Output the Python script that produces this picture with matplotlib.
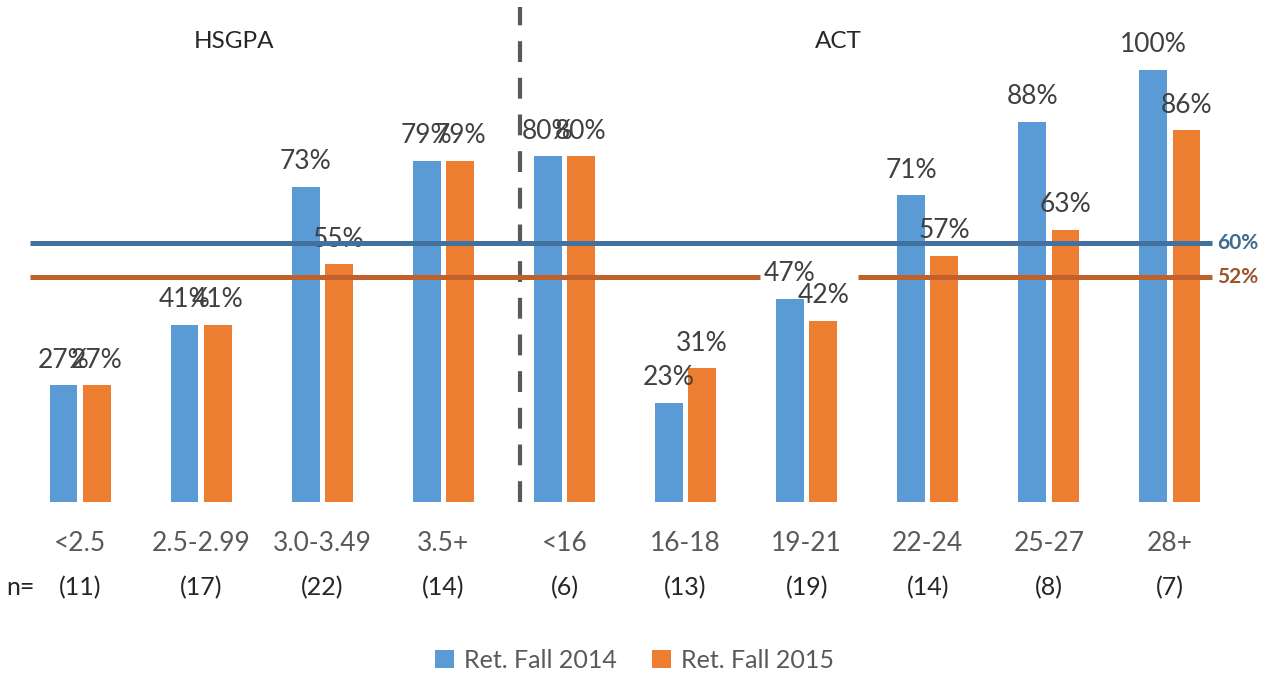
import numpy as np
import matplotlib
matplotlib.use("Agg")
import matplotlib.pyplot as plt

plt.rcParams['font.family'] = ['Lato', 'DejaVu Sans']

categories = ["<2.5", "2.5-2.99", "3.0-3.49", "3.5+", "<16", "16-18", "19-21", "22-24", "25-27", "28+"]
counts = [11, 17, 22, 14, 6, 13, 19, 14, 8, 7]
ret_2014 = [27, 41, 73, 79, 80, 23, 47, 71, 88, 100]
ret_2015 = [27, 41, 55, 79, 80, 31, 42, 57, 63, 86]
avg_2014 = 60
avg_2015 = 52

blue = "#5B9BD5"
orange = "#ED7D31"

fig = plt.figure(figsize=(12.77, 6.77), dpi=100)
ax = fig.add_axes([0, 0.2585, 1, 0.7415])
ax.set_xlim(-0.661, 9.884)
ax.set_ylim(0, 116.2)
ax.axis("off")

x = np.arange(len(categories))
w = 0.23
off = 0.137
b1 = ax.bar(x - off, ret_2014, w, color=blue, label="Ret. Fall 2014", zorder=2)
b2 = ax.bar(x + off, ret_2015, w, color=orange, label="Ret. Fall 2015", zorder=2)

for xs, vals in [(x - off, ret_2014), (x + off, ret_2015)]:
    for xi, v in zip(xs, vals):
        ax.annotate(f"{v}%", (xi, v), xytext=(0, 9), textcoords="offset points",
                    ha="center", va="bottom", fontsize=19, color="#404040", zorder=3)

# average lines
ax.hlines(avg_2014, -0.41, 9.35, color="#41719C", lw=3.6, zorder=4)
gap = 6
ax.hlines(avg_2015, -0.41, gap - 0.385, color="#C0612B", lw=3.6, zorder=4)
ax.hlines(avg_2015, gap + 0.425, 9.35, color="#C0612B", lw=3.6, zorder=4)
ax.text(9.56, avg_2014, f"{avg_2014}%", ha="center", va="center", fontsize=15,
        fontweight="bold", color="#3E6A90")
ax.text(9.56, avg_2015, f"{avg_2015}%", ha="center", va="center", fontsize=15,
        fontweight="bold", color="#A0522D")

# divider
ax.plot([3.633, 3.633], [0, 114.5], color="#595959", lw=3, dashes=(5, 3.8), zorder=1)

ax.text(1.27, 106.5, "HSGPA", ha="center", va="center", fontsize=17.5, color="#262626")
ax.text(6.26, 106.5, "ACT", ha="center", va="center", fontsize=17.5, color="#262626")

for xi, c, n in zip(x, categories, counts):
    ax.text(xi, -9.5, c, ha="center", va="center", fontsize=19, color="#595959", clip_on=False)
    ax.text(xi, -19.9, f"({n})", ha="center", va="center", fontsize=18, color="#262626", clip_on=False)
ax.text(-0.49, -19.9, "n=", ha="center", va="center", fontsize=18, color="#262626", clip_on=False)

fig.legend(handles=[b1, b2], loc="center", bbox_to_anchor=(0.497, 0.025), ncol=2,
           frameon=False, fontsize=18, labelcolor="#595959", handlelength=0.75,
           handleheight=0.75, handletextpad=0.4, columnspacing=1.4)

fig.savefig("out.png", dpi=100)
